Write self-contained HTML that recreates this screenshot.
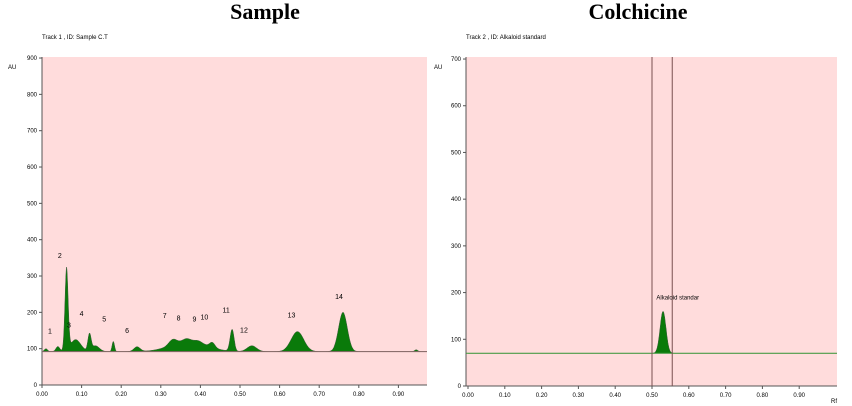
<!DOCTYPE html>
<html><head><meta charset="utf-8"><style>
body{margin:0;background:#fff;width:852px;height:406px;overflow:hidden;font-family:"Liberation Sans",sans-serif}
svg{display:block}
</style></head><body>
<svg id="s" width="852" height="406" xmlns="http://www.w3.org/2000/svg">
<text x="265" y="19" text-anchor="middle" font-family="Liberation Serif" font-weight="bold" font-size="22">Sample</text>
<text x="638" y="19" text-anchor="middle" font-family="Liberation Serif" font-weight="bold" font-size="22">Colchicine</text>
<text x="42" y="39" font-size="6">Track  1 , ID: Sample C.T</text>
<text x="466" y="39" font-size="6">Track  2 , ID: Alkaloid standard</text>
<text x="8" y="69" font-size="6">AU</text>
<text x="434" y="69" font-size="6">AU</text>
<text x="831" y="403" font-size="6">Rf</text>
</svg>
<script>
const NS="http://www.w3.org/2000/svg";
const svg=document.getElementById('s');
// Left (sample) data
const leftYTicks=[0,100,200,300,400,500,600,700,800,900];
const xTicks=[0,0.1,0.2,0.3,0.4,0.5,0.6,0.7,0.8,0.9];
const leftBaseline=92;
const leftPeakRf=[0.01,0.04,0.062,0.085,0.12,0.135,0.18,0.24,0.37,0.33,0.365,0.395,0.43,0.48,0.53,0.645,0.76,0.945];
const leftPeakH=[8,14,226,33,45,16,28,13,28,15,8,6,14,60,16,55,108,5];
const leftPeakW=[0.004,0.005,0.004,0.013,0.004,0.01,0.003,0.008,0.045,0.01,0.01,0.01,0.007,0.005,0.012,0.016,0.011,0.004];
const leftLabels=['1','2','3','4','5','6','7','8','9','10','11','12','13','14'];
const leftLabelRf=[0.02,0.045,0.068,0.1,0.157,0.215,0.31,0.345,0.385,0.41,0.465,0.51,0.63,0.75];
const leftLabelV=[142,350,158,190,175,143,185,178,175,180,200,145,186,237];
// Right (standard) data
const rightYTicks=[0,100,200,300,400,500,600,700];
const rightBaseline=70;
const rightPeakRf=[0.53];
const rightPeakH=[90];
const rightPeakW=[0.008];
const rightMarkers=[0.50,0.555];

function el(t,a,p){const e=document.createElementNS(NS,t);for(const k in a)e.setAttribute(k,a[k]);(p||svg).appendChild(e);return e;}
function chart(o){
  const X=v=>o.x0+v*o.xs, Y=v=>o.y0-v*o.ys;
  const bg=el('rect',{x:o.L,y:o.T,width:o.R-o.L,height:o.y0-o.T,fill:'#ffdcdc'});
  
  const ax=el('path',{d:`M${o.L} ${o.T}V${o.y0}H${o.R}`,stroke:'#555',fill:'none','stroke-width':1});
  
  o.yt.forEach(v=>{el('line',{x1:o.L-3,x2:o.L,y1:Y(v),y2:Y(v),stroke:'#555'});
    const t=el('text',{x:o.L-5,y:Y(v)+2,'font-size':6,'text-anchor':'end'});t.textContent=v;
    });
  xTicks.forEach(v=>{el('line',{x1:X(v),x2:X(v),y1:o.y0,y2:o.y0+3,stroke:'#555'});
    const t=el('text',{x:X(v),y:o.y0+11,'font-size':6,'text-anchor':'middle'});t.textContent=v.toFixed(2);
    });
  const rfMax=(o.R-o.x0)/o.xs;let d=`M${X(0)} ${Y(o.base)}`;
  for(let r=0;r<=rfMax;r+=0.001){let v=o.base;for(let i=0;i<o.pr.length;i++)v+=o.ph[i]*Math.exp(-((r-o.pr[i])**2)/(2*o.pw[i]**2));d+=`L${X(r).toFixed(1)} ${Y(v).toFixed(1)}`;}
  const fill=el('path',{d:d+`L${o.R} ${Y(o.base)}Z`,fill:'#0a7a0a',stroke:'#3a5a3a','stroke-width':0.5});
  
  const bl=el('line',{x1:o.L,x2:o.R,y1:Y(o.base),y2:Y(o.base),stroke:o.blc,'stroke-width':1});
  
  return {X,Y};
}
const l=chart({id:'left',L:42,R:427,T:57,x0:42,xs:396,y0:385,ys:0.3633,yt:leftYTicks,base:leftBaseline,pr:leftPeakRf,ph:leftPeakH,pw:leftPeakW,blc:'#8a6a6a'});
leftLabels.forEach((s,i)=>{const t=el('text',{x:l.X(leftLabelRf[i]),y:l.Y(leftLabelV[i]),'font-size':7,'text-anchor':'middle'});t.textContent=s;
  });
const r=chart({id:'right',L:466,R:837,T:57,x0:468,xs:368,y0:386,ys:0.4671,yt:rightYTicks,base:rightBaseline,pr:rightPeakRf,ph:rightPeakH,pw:rightPeakW,blc:'#3a9a3a'});
rightMarkers.forEach(v=>{const m=el('line',{x1:r.X(v),x2:r.X(v),y1:57,y2:386,stroke:'#7a5050','stroke-width':1});
  });
const at=el('text',{x:r.X(0.512),y:r.Y(185),'font-size':6});at.textContent='Alkaloid standar';

</script>
</body></html>
